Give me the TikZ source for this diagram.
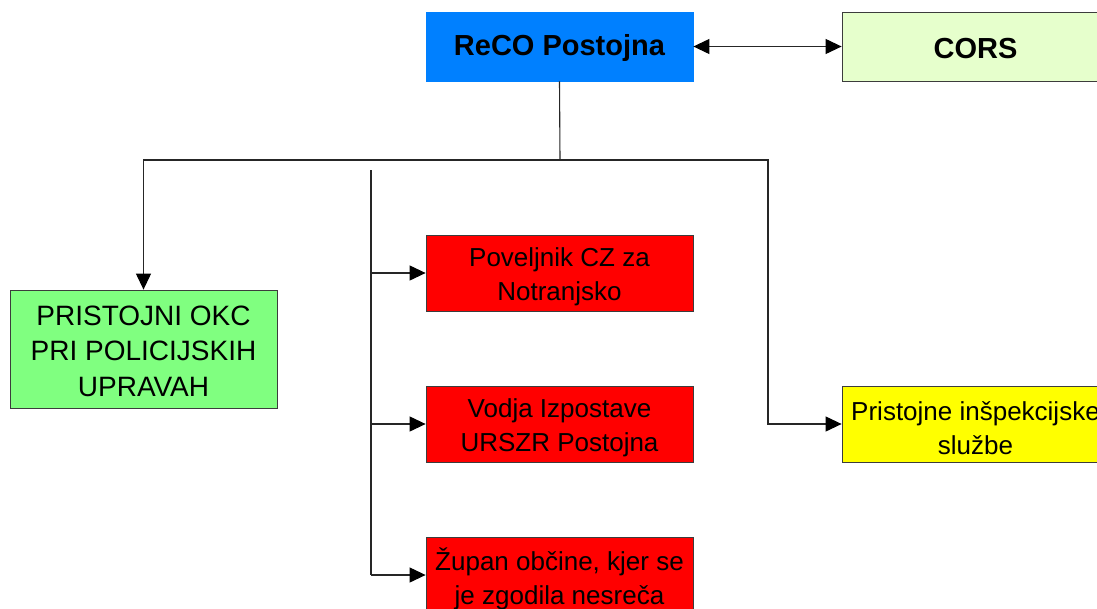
\documentclass[tikz,border=0pt]{standalone}
\usepackage{fontspec}
\setmainfont{Liberation Sans}
\usetikzlibrary{arrows.meta}
\definecolor{recoblue}{RGB}{0,128,255}
\definecolor{corsgreen}{RGB}{230,255,204}
\definecolor{okcgreen}{RGB}{128,255,128}
\definecolor{boxred}{RGB}{255,0,0}
\definecolor{boxyellow}{RGB}{255,255,0}
\definecolor{edgegray}{RGB}{60,60,60}
\begin{document}
\begin{tikzpicture}[x=1pt,y=-1pt,
  box/.style={draw=edgegray, line width=0.8pt, inner sep=0pt,
    minimum width=267pt, minimum height=76pt},
  hdr/.style={box, minimum height=69pt},
  txt/.style={inner sep=0pt, align=center, font=\fontsize{26}{34}\selectfont},
  hdrtxt/.style={inner sep=0pt, align=center, font=\bfseries\fontsize{29}{34}\selectfont},
  conn/.style={line width=1.1pt, draw=black!85},
  tip/.tip={Triangle[length=16pt,width=15pt,color=black]},
  arr/.style={conn, -tip},
  darr/.style={conn, tip-tip}
]
\useasboundingbox (0,0) rectangle (1097,608);
\fill[white] (0,0) rectangle (1097,608);

\node[hdr, fill=recoblue, draw=recoblue] (reco) at (559.5,46.5) {};
\node[hdrtxt] (recot) at ([yshift=-2pt]reco.center) {ReCO Postojna};
\node[hdr, fill=corsgreen] (cors) at (975.5,46.5) {};
\node[hdrtxt] (corst) at ([yshift=-2pt]cors.center) {CORS};
\node[box, fill=okcgreen, minimum height=118pt] (okc) at (143.5,349) {};
\node[txt, font=\fontsize{28}{35.5}\selectfont] (okct) at ([yshift=-2pt]okc.center) {PRISTOJNI OKC\\PRI POLICIJSKIH\\UPRAVAH};
\node[box, fill=boxred] (pov) at (559.5,273) {};
\node[txt] (povt) at ([yshift=-4pt]pov.center) {Poveljnik CZ za\\Notranjsko};
\node[box, fill=boxred] (vod) at (559.5,424) {};
\node[txt] (vodt) at ([yshift=-4pt]vod.center) {Vodja Izpostave\\URSZR Postojna};
\node[box, fill=boxred] (zup) at (559.5,575) {};
\node[txt] (zupt) at ([yshift=-4pt]zup.center) {Župan občine, kjer se\\je zgodila nesreča};
\node[box, fill=boxyellow] (insp) at (975.5,424) {};
\node[txt] (inspt) at ([yshift=-4pt]insp.center) {Pristojne inšpekcijske\\službe};

\draw[darr] (reco.east) -- (cors.west);

\coordinate (top) at (560,160);
\coordinate (jr) at (768,160);
\draw[conn] (reco.south) -- (top);
\draw[arr] (top) -| (okc.north);
\draw[arr] (top) -- (jr) |- (insp.west);

\coordinate (bt) at (371,170);
\coordinate (bb) at (371,575);
\draw[conn] (bt) -- (bb);
\draw[arr] (bt |- pov.west) -- (pov.west);
\draw[arr] (bt |- vod.west) -- (vod.west);
\draw[arr] (bb) -- (zup.west);
\end{tikzpicture}
\end{document}
